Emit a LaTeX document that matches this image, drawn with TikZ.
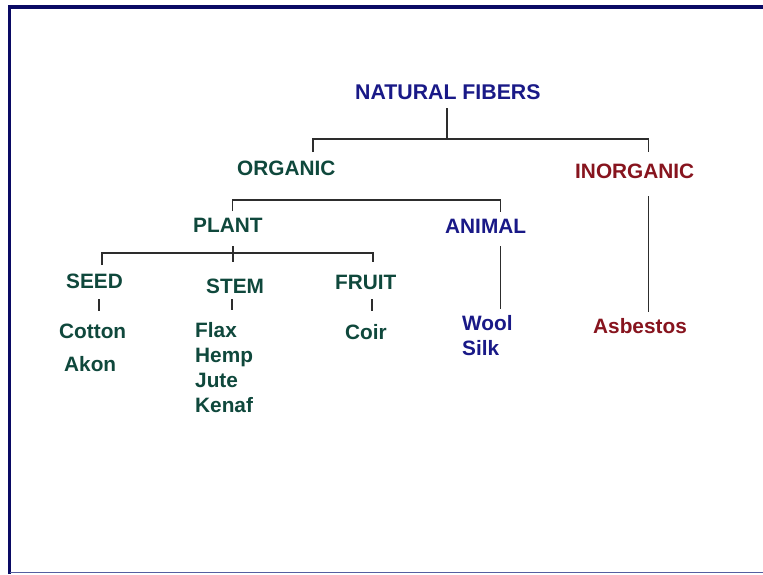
\documentclass[tikz,border=0pt]{standalone}
\usepackage{fontspec}
\setmainfont{Liberation Sans}
\definecolor{navyt}{RGB}{25,25,135}
\definecolor{greent}{RGB}{15,72,60}
\definecolor{redt}{RGB}{135,20,30}
\definecolor{linec}{RGB}{45,45,45}
\definecolor{framec}{RGB}{10,10,100}
\definecolor{framelow}{RGB}{85,95,160}
\begin{document}
\begin{tikzpicture}[x=1pt,y=-1pt,
  lbl/.style={inner sep=0pt,anchor=base west,font=\fontsize{20.8}{25}\selectfont\bfseries},
  navlbl/.style={lbl,text=navyt},
  grnlbl/.style={lbl,text=greent},
  redlbl/.style={lbl,text=redt},
  conn/.style={draw=linec,line width=1.4pt}]
\useasboundingbox (0,0) rectangle (763,574);
\fill[white] (0,0) rectangle (763,574);
% frame
\draw[framec,line width=3.2pt] (9.5,574) -- (9.5,7) -- (763,7);
\draw[framelow,line width=1.5pt] (9.5,572.5) -- (763,572.5);
% labels
\node[navlbl,font=\fontsize{21.3}{25}\selectfont\bfseries] (nf) at (355,99) {NATURAL FIBERS};
\node[grnlbl] (org) at (237,175) {ORGANIC};
\node[redlbl] (inorg) at (575,178) {INORGANIC};
\node[grnlbl] (plant) at (193,232) {PLANT};
\node[navlbl] (animal) at (445,233) {ANIMAL};
\node[grnlbl] (seed) at (66,288) {SEED};
\node[grnlbl] (stem) at (206,293) {STEM};
\node[grnlbl] (fruit) at (335,289) {FRUIT};
\node[grnlbl] (cotton) at (59,338) {Cotton};
\node[grnlbl] (akon) at (64,371) {Akon};
\node[grnlbl] (flax) at (195,337) {Flax};
\node[grnlbl] (hemp) at (195,362) {Hemp};
\node[grnlbl] (jute) at (195,387) {Jute};
\node[grnlbl] (kenaf) at (195,412) {Kenaf};
\node[grnlbl] (coir) at (345,339) {Coir};
\node[navlbl] (wool) at (462,330) {Wool};
\node[navlbl] (silk) at (462,355) {Silk};
\node[redlbl] (asb) at (593,333) {Asbestos};
% connector end points
\coordinate (nfb) at (447,108);
\coordinate (j1) at (447,139);
\coordinate (orgt) at (313,152);
\coordinate (inorgt) at (648.5,152);
\coordinate (plantt) at (232.5,211);
\coordinate (animalt) at (500.5,212);
\coordinate (plantb) at (233,246);
\coordinate (j2) at (233,253);
\coordinate (seedt) at (102,265);
\coordinate (stemt) at (233,262);
\coordinate (fruitt) at (373,262);
\coordinate (seedb) at (99,299);
\coordinate (cottont) at (99,311);
\coordinate (stemb) at (232,299);
\coordinate (flaxt) at (232,310);
\coordinate (fruitb) at (372,299);
\coordinate (coirt) at (372,311);
\coordinate (animalb) at (500.5,246);
\coordinate (woolt) at (500.5,309);
\coordinate (inorgb) at (648.5,196);
\coordinate (asbt) at (648.5,312);
% connectors
\draw[conn] (nfb) -- (j1);
\draw[conn] (orgt) |- (j1) -| (inorgt);
\draw[conn] (plantt) -- ++(0,-11) -| (animalt);
\draw[conn] (plantb) -- (j2);
\draw[conn] (seedt) |- (j2) -| (fruitt);
\draw[conn] (j2) -- (stemt);
\draw[conn] (seedb) -- (cottont);
\draw[conn] (stemb) -- (flaxt);
\draw[conn] (fruitb) -- (coirt);
\draw[conn] (animalb) -- (woolt);
\draw[conn] (inorgb) -- (asbt);
\end{tikzpicture}
\end{document}
